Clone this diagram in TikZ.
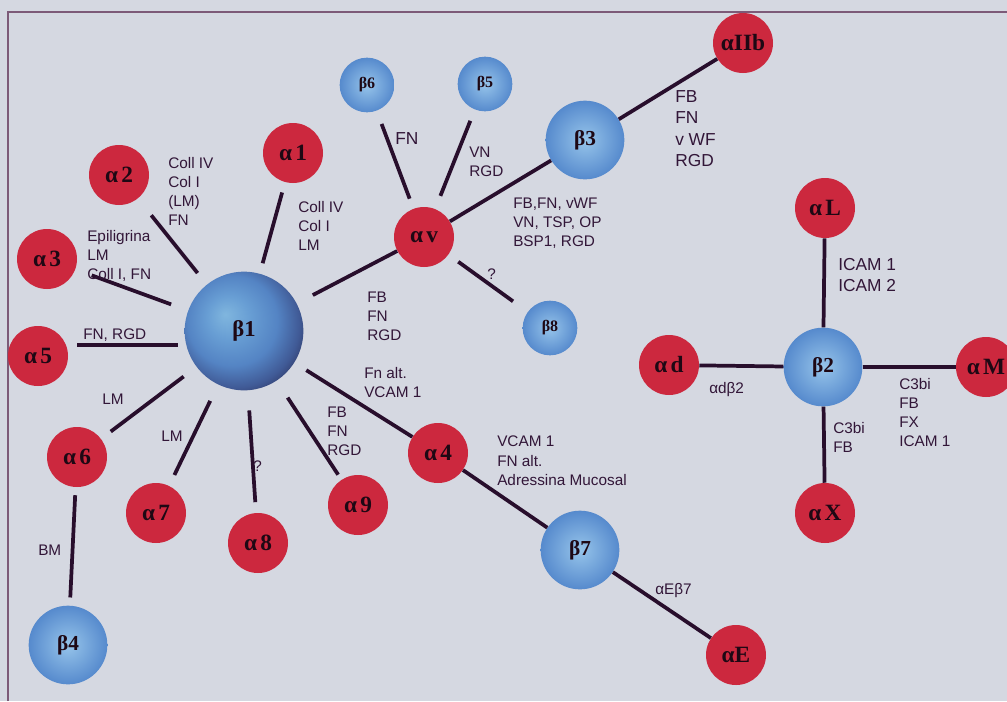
\documentclass[tikz,border=0pt]{standalone}
\usepackage{fontspec}
\setmainfont{Liberation Sans}
\newfontfamily\grk{Liberation Serif}
\usetikzlibrary{calc}
\definecolor{bgc}{RGB}{213,216,225}
\definecolor{redc}{RGB}{204,40,62}
\definecolor{txtc}{RGB}{50,22,56}
\definecolor{linec}{RGB}{40,14,44}
\definecolor{framec}{RGB}{125,90,120}
\definecolor{blueL}{RGB}{150,196,234}
\definecolor{blueD}{RGB}{86,138,205}
\definecolor{nodetxt}{RGB}{30,8,20}
\pgfdeclareradialshading{bsphere}{\pgfpoint{-8bp}{7bp}}{%
  color(0bp)=(rgb,255:red,128;green,182;blue,222);
  color(9bp)=(rgb,255:red,104;green,158;blue,212);
  color(19bp)=(rgb,255:red,84;green,132;blue,196);
  color(27bp)=(rgb,255:red,64;green,90;blue,150);
  color(35bp)=(rgb,255:red,36;green,34;blue,70);
  color(50bp)=(rgb,255:red,36;green,34;blue,70)}
\newcommand{\al}[1]{α\hspace{0.14em}#1}
\begin{document}
\begin{tikzpicture}[x=0.75pt,y=-0.75pt,
  alpha/.style={circle,fill=redc,minimum size=45pt,inner sep=0pt,text=nodetxt,font=\grk\bfseries\fontsize{17.5}{17.5}\selectfont},
  betaS/.style={circle,inner color=blueL,outer color=blueD,minimum size=41pt,inner sep=0pt,text=nodetxt,font=\grk\bfseries\fontsize{12}{12}\selectfont},
  betaM/.style={betaS,minimum size=59pt,font=\grk\bfseries\fontsize{16}{16}\selectfont},
  betaL/.style={circle,shading=bsphere,minimum size=89pt,inner sep=0pt,text=nodetxt,font=\grk\bfseries\fontsize{17}{17}\selectfont},
  lab/.style={anchor=north west,inner sep=0pt,align=left,text=txtc,font=\fontsize{11.5}{14.3}\selectfont},
  labB/.style={lab,font=\fontsize{13}{16.2}\selectfont},
  link/.style={draw=linec,line width=2.8pt},
]
\clip (0,0) rectangle (1007,701);
\fill[bgc] (0,0) rectangle (1007,701);
\draw[framec,line width=1pt] (8,701) -- (8,12) -- (1007,12);

% alpha subunits
\node[alpha] (a1) at (293,153) {\al{1}};
\node[alpha] (a2) at (119,175) {\al{2}};
\node[alpha] (a3) at (47,259) {\al{3}};
\node[alpha] (a5) at (38,356) {\al{5}};
\node[alpha] (a6) at (77,457) {\al{6}};
\node[alpha] (a7) at (156,513) {\al{7}};
\node[alpha] (a8) at (258,543) {\al{8}};
\node[alpha] (a9) at (358,505) {\al{9}};
\node[alpha] (a4) at (438,453) {\al{4}};
\node[alpha] (av) at (424,237) {\al{v}};
\node[alpha] (aIIb) at (743,43) {αIIb};
\node[alpha] (aL) at (825,208) {\al{L}};
\node[alpha] (ad) at (669,365) {\al{d}};
\node[alpha] (aM) at (986,367) {\al{M}};
\node[alpha] (aX) at (825,513) {\al{X}};
\node[alpha] (aE) at (736,655) {αE};

% beta subunits
\node[betaL] (b1) at (244,331) {β1};
\node[betaS] (b6) at (367,85) {β6};
\node[betaS] (b5) at (485,84) {β5};
\node[betaS] (b8) at (550,328) {β8};
\node[betaM] (b3) at (585,140) {β3};
\node[betaM] (b2) at (823,367) {β2};
\node[betaM] (b7) at (580,550) {β7};
\node[betaM] (b4) at (68,645) {β4};

% connectors around beta1
\draw[link,shorten <=8pt,shorten >=8pt] (a1) -- (b1);
\draw[link,shorten <=16pt,shorten >=11pt] (a2) -- (b1);
\draw[link,shorten <=13pt,shorten >=13.5pt] (a3) -- (b1);
\draw[link] ([shift={(9,-11)}]a5.east) -- ([shift={(-6,14)}]b1.west);
\draw[link,shorten <=9pt,shorten >=12pt] (a6) -- (b1);
\draw[link,shorten <=9pt,shorten >=13.5pt] (a7) -- (b1);
\draw[link,shorten <=8pt,shorten >=15pt] (a8) -- (b1);
\draw[link,shorten <=4.5pt,shorten >=15pt] (a9) -- (b1);
\draw[link,shorten >=10.5pt] (a4) -- (b1);
\draw[link,shorten <=13.5pt] (b1) -- (av);
\draw[link,shorten <=6pt,shorten >=6pt] (a6) -- (b4);
% alpha v
\draw[link,shorten <=8pt,shorten >=10.5pt] (av) -- (b6);
\draw[link,shorten <=10.5pt,shorten >=9pt] (av) -- (b5);
\draw[link,shorten <=9pt,shorten >=13.5pt] (av) -- (b8);
\draw[link] (av) -- (b3);
\draw[link] (b3) -- (aIIb);
% beta7
\draw[link] (a4) -- (b7);
\draw[link] (b7) -- (aE);
% beta2
\draw[link] (aL) -- (b2);
\draw[link] (ad) -- (b2);
\draw[link] (b2) -- (aM);
\draw[link] (b2) -- (aX);

% labels
\node[lab] (l2) at (168,157) {Coll IV\\Col I\\(LM)\\FN};
\node[lab] (l3) at (87,230) {Epiligrina\\LM\\Coll I, FN};
\node[lab] (l1) at (298,201) {Coll IV\\Col I\\LM};
\node[lab] (l5) at (83,329) {FN, RGD};
\node[labB] (l6) at (395,132) {FN};
\node[lab] (lb5) at (469,147) {VN\\RGD};
\node[lab] (lv) at (367,292) {FB\\FN\\RGD};
\node[lab] (lq1) at (487,269) {?};
\node[lab] (lb3) at (513,198) {FB,FN, vWF\\VN, TSP, OP\\BSP1, RGD};
\node[labB] (lIIb) at (675,90) {FB\\FN\\v WF\\RGD};
\node[labB] (lL) at (838,258) {ICAM 1\\ICAM 2};
\node[lab] (ld) at (709,382) {αdβ2};
\node[lab] (lX) at (833,422) {C3bi\\FB};
\node[lab] (lM) at (899,378) {C3bi\\FB\\FX\\ICAM 1};
\node[lab] (l4r) at (497,436) {VCAM 1\\FN alt.\\Adressina Mucosal};
\node[lab] (l4l) at (364,367) {Fn alt.\\VCAM 1};
\node[lab] (l9) at (327,407) {FB\\FN\\RGD};
\node[lab] (l6a) at (102,394) {LM};
\node[lab] (l7) at (161,431) {LM};
\node[lab] (lq2) at (253,461) {?};
\node[lab] (lbm) at (38,545) {BM};
\node[lab] (lE) at (655,583) {αEβ7};
\end{tikzpicture}
\end{document}
